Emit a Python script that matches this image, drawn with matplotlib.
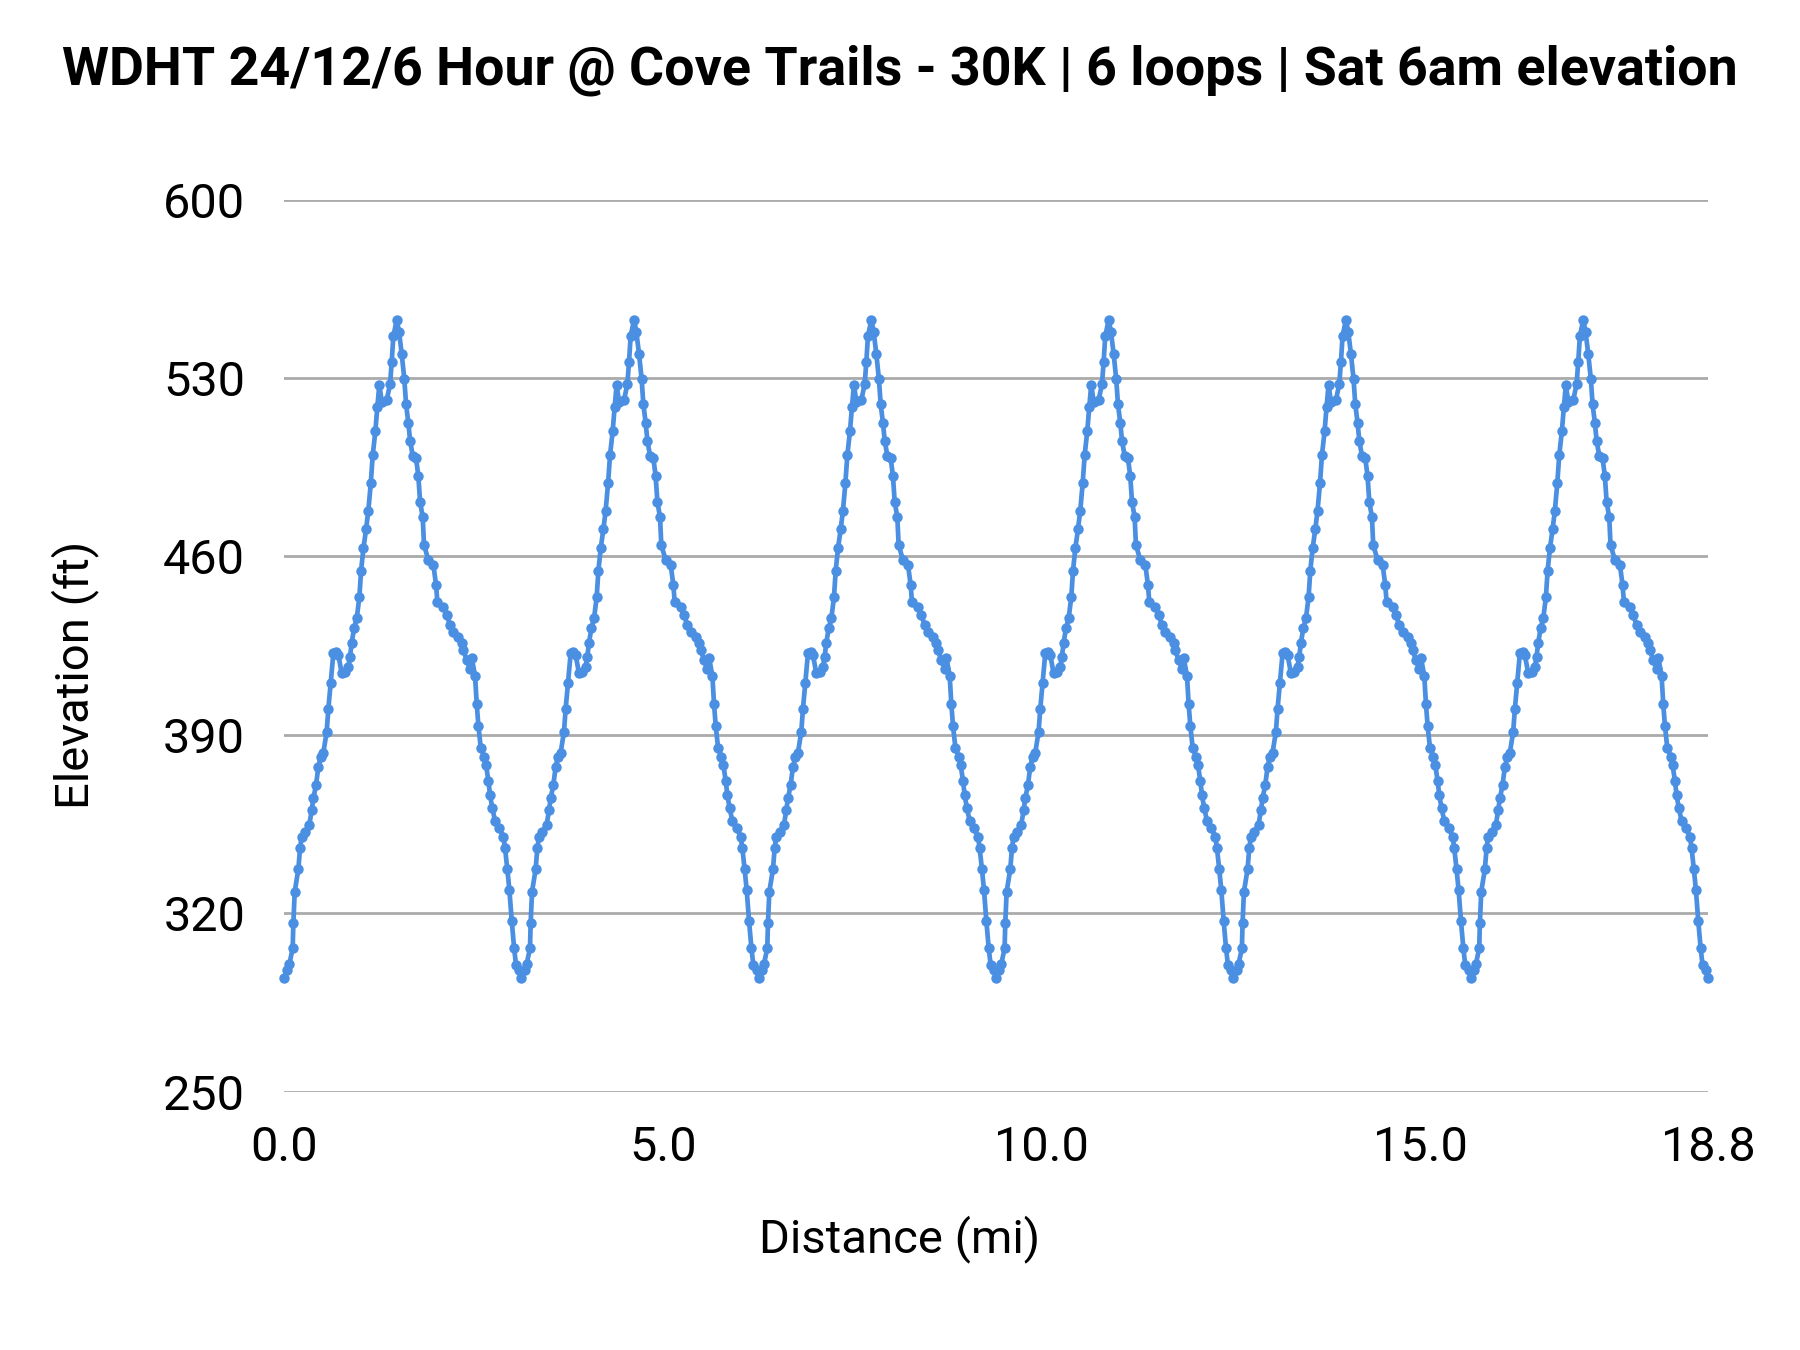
import numpy as np
import matplotlib
matplotlib.use("Agg")
import matplotlib.pyplot as plt

plt.rcParams["font.family"] = ["Roboto", "DejaVu Sans"]

# one loop of the course (miles, feet)
loop_dist = [0.000, 0.044, 0.070, 0.114, 0.123, 0.141, 0.189, 0.211, 0.233, 0.277,
             0.334, 0.365, 0.387, 0.422, 0.453, 0.484, 0.519, 0.563, 0.585, 0.616,
             0.651, 0.687, 0.717, 0.761, 0.805, 0.849, 0.871, 0.893, 0.924, 0.960,
             0.995, 1.017, 1.048, 1.083, 1.113, 1.145, 1.171, 1.206, 1.232, 1.258,
             1.290, 1.356, 1.400, 1.422, 1.443, 1.488, 1.518, 1.554, 1.588, 1.611,
             1.641, 1.664, 1.699, 1.743, 1.773, 1.796, 1.831, 1.848, 1.906, 1.972,
             2.007, 2.024, 2.103, 2.148, 2.192, 2.236, 2.301, 2.346, 2.368, 2.412,
             2.456, 2.478, 2.522, 2.544, 2.566, 2.597, 2.641, 2.667, 2.698, 2.720,
             2.750, 2.786, 2.843, 2.896, 2.918, 2.948, 2.975, 3.006, 3.037, 3.063,
             3.107]
loop_elev = [294.5, 297.8, 300.0, 306.3, 316.1, 328.5, 337.3, 345.5, 350.1, 352.0,
             354.7, 360.5, 365.1, 370.3, 377.5, 381.5, 383.0, 391.3, 400.2, 410.3,
             422.0, 422.7, 421.4, 414.2, 414.8, 416.8, 420.7, 426.0, 431.8, 435.8,
             444.2, 454.4, 463.2, 470.7, 478.0, 488.7, 499.8, 509.2, 518.8, 527.3,
             520.8, 521.4, 527.7, 536.5, 546.5, 552.8, 548.2, 539.4, 529.6, 519.7,
             512.5, 505.5, 499.5, 498.5, 491.6, 481.5, 475.4, 464.5, 458.6, 456.7,
             448.8, 442.3, 440.3, 437.1, 433.1, 430.5, 428.5, 426.0, 423.3, 419.4,
             415.8, 420.3, 413.2, 402.1, 393.6, 385.0, 381.5, 378.2, 372.0, 366.4,
             361.2, 356.3, 353.4, 350.1, 345.5, 337.3, 329.2, 317.1, 306.5, 299.7,
             297.8]
loop_length = 3.133
n_loops = 6
finish = (18.8, 294.5)

xticks = [0.0, 5.0, 10.0, 15.0, 18.8]
xtick_labels = ["0.0", "5.0", "10.0", "15.0", "18.8"]
yticks = [250, 320, 390, 460, 530, 600]

# lay the loop end to end
dist = []
elev = []
for k in range(n_loops):
    dist += [d + k * loop_length for d in loop_dist]
    elev += loop_elev
dist.append(finish[0])
elev.append(finish[1])

fig = plt.figure(figsize=(18, 13.5), dpi=100)
ax = fig.add_axes([0.1578, 0.1913, 0.7911, 0.6608])

ax.plot(dist, elev, color="#4a8fe2", lw=3.4, marker="o", ms=7.5,
        markeredgewidth=0, clip_on=False, zorder=3)

ax.set_xlim(0, 18.8)
ax.set_ylim(250, 600)
ax.set_xticks(xticks)
ax.set_xticklabels(xtick_labels)
ax.set_yticks(yticks)
ax.grid(axis="y", color="#aaaaaa", lw=2.0)
ax.set_axisbelow(True)
for s in ax.spines.values():
    s.set_visible(False)
ax.tick_params(length=0, labelsize=35, colors="#000000")
ax.tick_params(axis="x", pad=24)
ax.tick_params(axis="y", pad=28)

# axis titles sit centred on the figure, not on the plot area
fig.text(0.5, 0.082, "Distance (mi)", fontsize=34, ha="center", va="center")
fig.text(0.0417, 0.5, "Elevation (ft)", fontsize=34, rotation=90,
         ha="center", va="center")

fig.suptitle("WDHT 24/12/6 Hour @ Cove Trails - 30K | 6 loops | Sat 6am elevation",
             fontsize=38.7, fontweight="bold", x=0.5, y=0.948, va="center")

fig.savefig("out.png", dpi=100, facecolor="white")
